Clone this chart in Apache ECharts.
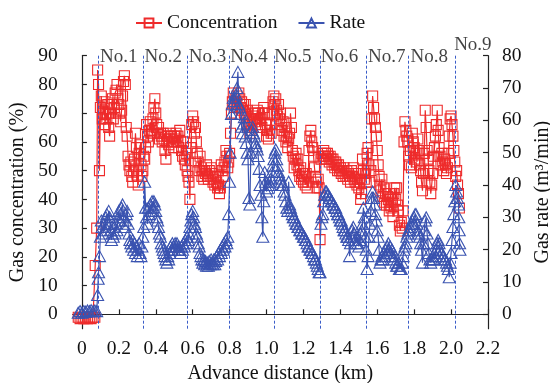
<!DOCTYPE html>
<html><head><meta charset="utf-8">
<script src="https://cdn.jsdelivr.net/npm/echarts@6/dist/echarts.min.js"></script>
<style>html,body{margin:0;padding:0;background:#fff}#c{width:550px;height:383px}</style>
</head><body><div id="c"></div>
<script>
const xTicks = [0, 0.2, 0.4, 0.6, 0.8, 1.0, 1.2, 1.4, 1.6, 1.8, 2.0, 2.2];
const leftTicks = [0, 10, 20, 30, 40, 50, 60, 70, 80, 90];
const rightTicks = [0, 10, 20, 30, 40, 50, 60, 70, 80];
const sectionX = [0.092, 0.334, 0.573, 0.798, 1.036, 1.289, 1.544, 1.775, 2.022];
const sectionNames = ['No.1', 'No.2', 'No.3', 'No.4', 'No.5', 'No.6', 'No.7', 'No.8', 'No.9'];

const concData = [
[-0.02,-1],[-0.01,-1.5],[0,-1],[0.01,-1.5],[0.02,-1],[0.03,-1.5],[0.04,-1],[0.05,-1.5],[0.06,-1],[0.07,-1],
[0.072,17],[0.08,30],[0.085,85],[0.09,80],[0.095,50],[0.1,72],[0.105,76],[0.11,68],[0.115,70],[0.12,74],
[0.125,66],[0.13,70],[0.135,68],[0.14,73],[0.145,65],[0.15,62],[0.155,70],[0.16,73],[0.165,75],[0.17,68],
[0.175,72],[0.18,77],[0.185,78],[0.19,80],[0.195,75],[0.2,73],[0.205,70],[0.21,67],[0.215,71],[0.22,76],
[0.225,81],[0.23,83],[0.235,80],[0.24,65],[0.245,62],[0.25,55],[0.255,52],[0.26,50],[0.265,53],[0.27,48],
[0.275,46],[0.28,50],[0.285,54],[0.29,63],[0.295,58],[0.3,48],[0.305,45],[0.31,56],[0.315,59],[0.32,52],
[0.325,48],[0.33,50],[0.335,55],[0.34,54],[0.345,58],[0.35,66],[0.355,62],[0.36,60],[0.365,64],[0.37,67],
[0.375,63],[0.38,64],[0.385,68],[0.39,72],[0.395,75],[0.4,70],[0.405,66],[0.41,63],[0.415,65],[0.42,61],
[0.425,63],[0.43,62],[0.435,60],[0.44,63],[0.445,61],[0.45,57],[0.455,54],[0.46,60],[0.465,62],[0.47,59],
[0.475,61],[0.48,63],[0.485,62],[0.49,60],[0.495,58],[0.5,62],[0.505,61],[0.51,63],[0.515,60],[0.52,62],
[0.525,58],[0.53,64],[0.535,60],[0.54,57],[0.545,55],[0.55,60],[0.555,54],[0.56,52],[0.565,56],[0.57,50],
[0.575,48],[0.58,46],[0.585,40],[0.59,58],[0.595,66],[0.6,69],[0.605,67],[0.61,63],[0.615,65],[0.62,60],
[0.625,56],[0.63,53],[0.635,50],[0.64,55],[0.645,51],[0.65,48],[0.655,50],[0.66,47],[0.665,50],[0.67,49],
[0.675,52],[0.68,48],[0.685,47],[0.69,50],[0.695,48],[0.7,51],[0.705,49],[0.71,46],[0.715,47],[0.72,45],
[0.725,48],[0.73,46],[0.735,44],[0.74,45],[0.745,42],[0.75,44],[0.755,52],[0.76,50],[0.765,48],[0.77,51],
[0.775,53],[0.78,57],[0.785,55],[0.79,51],[0.795,53],[0.8,56],[0.805,63],[0.81,70],[0.815,74],[0.82,77],
[0.825,72],[0.83,75],[0.835,73],[0.84,76],[0.845,72],[0.85,77],[0.855,75],[0.86,72],[0.865,74],[0.87,71],
[0.875,73],[0.88,70],[0.885,73],[0.89,69],[0.895,71],[0.9,67],[0.905,65],[0.91,63],[0.915,66],[0.92,64],
[0.925,68],[0.93,69],[0.935,67],[0.94,70],[0.945,68],[0.95,71],[0.955,70],[0.96,68],[0.965,66],[0.97,68],
[0.975,65],[0.98,70],[0.985,72],[0.99,70],[0.995,66],[1.0,62],[1.005,64],[1.01,61],[1.015,64],[1.02,66],
[1.025,63],[1.03,70],[1.035,74],[1.04,76],[1.045,73],[1.05,75],[1.055,71],[1.06,69],[1.065,73],[1.07,68],
[1.075,70],[1.08,66],[1.085,64],[1.09,67],[1.095,62],[1.1,65],[1.105,60],[1.11,62],[1.115,58],[1.12,61],
[1.125,63],[1.13,70],[1.135,65],[1.14,57],[1.145,55],[1.15,51],[1.155,54],[1.16,56],[1.165,52],[1.17,54],
[1.175,50],[1.18,48],[1.185,51],[1.19,47],[1.195,49],[1.2,46],[1.205,48],[1.21,45],[1.215,49],[1.22,44],
[1.225,46],[1.23,57],[1.235,62],[1.24,64],[1.245,60],[1.25,58],[1.255,55],[1.26,51],[1.265,48],[1.27,46],
[1.275,44],[1.28,47],[1.285,44],[1.29,26],[1.295,54],[1.3,56],[1.305,55],[1.31,57],[1.315,55],[1.32,56],
[1.325,54],[1.33,56],[1.335,55],[1.34,53],[1.345,55],[1.35,54],[1.355,52],[1.36,54],[1.365,53],[1.37,51],
[1.375,53],[1.38,52],[1.385,50],[1.39,52],[1.395,50],[1.4,51],[1.405,49],[1.41,50],[1.415,48],[1.42,51],
[1.425,49],[1.43,48],[1.435,50],[1.44,47],[1.445,49],[1.45,48],[1.455,46],[1.46,50],[1.465,48],[1.47,51],
[1.475,47],[1.48,46],[1.485,49],[1.49,45],[1.495,47],[1.5,44],[1.505,46],[1.51,40],[1.515,42],[1.52,54],
[1.525,50],[1.53,47],[1.535,49],[1.54,46],[1.545,56],[1.55,58],[1.555,52],[1.56,46],[1.565,50],[1.57,68],
[1.575,76],[1.58,72],[1.585,68],[1.59,65],[1.595,62],[1.6,57],[1.605,52],[1.61,48],[1.615,45],[1.62,43],
[1.625,47],[1.63,41],[1.635,44],[1.64,39],[1.645,42],[1.65,38],[1.655,41],[1.66,40],[1.665,36],[1.67,38],
[1.675,37],[1.68,39],[1.685,34],[1.69,42],[1.695,44],[1.7,40],[1.705,44],[1.71,38],[1.715,36],[1.72,31],
[1.725,29],[1.73,32],[1.735,30],[1.74,36],[1.745,60],[1.75,67],[1.755,64],[1.76,62],[1.765,60],[1.77,55],
[1.775,52],[1.78,57],[1.785,51],[1.79,63],[1.795,60],[1.8,58],[1.805,54],[1.81,56],[1.815,53],[1.82,61],
[1.825,57],[1.83,52],[1.835,50],[1.84,46],[1.845,43],[1.85,49],[1.855,56],[1.86,71],[1.865,65],[1.87,57],
[1.875,54],[1.88,50],[1.885,46],[1.89,42],[1.895,45],[1.9,49],[1.905,55],[1.91,58],[1.915,62],[1.92,66],
[1.925,71],[1.93,64],[1.935,58],[1.94,55],[1.945,52],[1.95,56],[1.955,53],[1.96,50],[1.965,54],[1.97,52],
[1.975,49],[1.98,51],[1.985,56],[1.99,62],[1.995,68],[2.0,69],[2.005,66],[2.01,62],[2.015,57],[2.02,53],
[2.025,48],[2.03,50],[2.035,45],[2.04,42],[2.045,37]
];

const rateData = [
[-0.02,0.5],[-0.01,1],[0,0.5],[0.01,1],[0.02,0.8],[0.03,1.2],[0.04,1],[0.05,1.3],[0.06,1],[0.07,1.2],
[0.08,1],[0.085,6],[0.088,11],[0.09,13],[0.095,18],[0.1,24],[0.105,29],[0.11,27],[0.115,25],[0.12,28],
[0.125,26],[0.13,30],[0.135,31],[0.14,28],[0.145,32],[0.15,30],[0.155,26],[0.16,23],[0.165,25],[0.17,24],
[0.175,27],[0.18,25],[0.185,28],[0.19,26],[0.195,30],[0.2,32],[0.205,29],[0.21,31],[0.215,33],[0.22,34],
[0.225,30],[0.23,27],[0.235,29],[0.24,31],[0.245,32],[0.25,28],[0.255,25],[0.26,23],[0.265,22],[0.27,21],
[0.275,23],[0.28,20],[0.285,22],[0.29,19],[0.295,21],[0.3,18],[0.305,20],[0.31,22],[0.315,19],[0.32,18],
[0.325,21],[0.33,24],[0.335,27],[0.34,41],[0.345,33],[0.35,30],[0.355,28],[0.36,33],[0.365,31],[0.37,34],
[0.375,32],[0.38,35],[0.385,33],[0.39,35],[0.395,34],[0.4,32],[0.405,30],[0.41,29],[0.415,27],[0.42,25],
[0.425,24],[0.43,22],[0.435,21],[0.44,20],[0.445,19],[0.45,18],[0.455,17],[0.46,16],[0.465,18],[0.47,17],
[0.475,19],[0.48,21],[0.485,20],[0.49,22],[0.495,21],[0.5,20],[0.505,22],[0.51,21],[0.515,22],[0.52,20],
[0.525,21],[0.53,20],[0.535,19],[0.54,21],[0.545,20],[0.55,22],[0.555,21],[0.56,23],[0.565,22],[0.57,24],
[0.575,23],[0.58,25],[0.585,27],[0.59,29],[0.595,31],[0.6,32],[0.605,30],[0.61,28],[0.615,27],[0.62,25],
[0.625,24],[0.63,22],[0.635,21],[0.64,19],[0.645,18],[0.65,17],[0.655,16],[0.66,17],[0.665,15.5],[0.67,16.5],
[0.675,15],[0.68,16],[0.685,15],[0.69,16.5],[0.695,15.5],[0.7,17],[0.705,16],[0.71,15.5],[0.715,17],[0.72,15.5],
[0.725,16.5],[0.73,18],[0.735,17],[0.74,19],[0.745,18],[0.75,20],[0.755,19],[0.76,21],[0.765,20],[0.77,22],
[0.775,21],[0.78,23],[0.785,22],[0.79,24],[0.795,31],[0.8,41],[0.803,50],[0.81,62],[0.815,65],[0.82,67],
[0.825,66],[0.83,67],[0.835,68],[0.84,70],[0.845,75],[0.85,65],[0.855,64],[0.86,62],[0.865,58],[0.87,56],
[0.875,59],[0.88,61],[0.885,55],[0.89,53],[0.895,50],[0.9,48],[0.905,36],[0.91,34],[0.915,50],[0.92,57],
[0.925,58],[0.93,56],[0.935,55],[0.94,53],[0.945,52],[0.95,51],[0.955,49],[0.96,45],[0.965,40],[0.97,37],
[0.975,30],[0.98,24],[0.985,35],[0.99,44],[0.995,41],[1.0,38],[1.005,39],[1.01,40],[1.015,41],[1.02,40],
[1.025,42],[1.03,44],[1.035,46],[1.04,48],[1.045,50],[1.05,51],[1.055,48],[1.06,46],[1.065,44],[1.07,43],
[1.075,42],[1.08,41],[1.085,40],[1.09,40],[1.095,38],[1.1,37],[1.105,35],[1.11,33],[1.115,32],[1.12,41],
[1.125,34],[1.13,33],[1.135,32],[1.14,31],[1.145,30],[1.15,30],[1.155,29],[1.16,28],[1.165,28],[1.17,27],
[1.175,27],[1.18,26],[1.185,26],[1.19,25],[1.195,25],[1.2,24],[1.205,24],[1.21,23],[1.215,23],[1.22,22],
[1.225,21],[1.23,21],[1.235,20],[1.24,20],[1.245,19],[1.25,19],[1.255,18],[1.26,17],[1.265,17],[1.27,16],
[1.275,15],[1.28,14],[1.285,13],[1.29,13],[1.295,28],[1.3,30],[1.305,31],[1.31,35],[1.315,37],[1.32,38],
[1.325,38],[1.33,37],[1.335,37],[1.34,36],[1.345,36],[1.35,35],[1.355,35],[1.36,34],[1.365,34],[1.37,33],
[1.375,33],[1.38,32],[1.385,31],[1.39,31],[1.395,30],[1.4,29],[1.405,29],[1.41,28],[1.415,27],[1.42,26],
[1.425,26],[1.43,25],[1.435,24],[1.44,24],[1.445,23],[1.45,18],[1.455,22],[1.46,24],[1.465,26],[1.47,27],
[1.475,25],[1.48,23],[1.485,22],[1.49,24],[1.495,22],[1.5,21],[1.505,23],[1.51,25],[1.515,26],[1.52,28],
[1.525,33],[1.53,30],[1.535,24],[1.54,20],[1.545,14],[1.55,18],[1.555,24],[1.56,28],[1.565,32],[1.57,36],
[1.575,38],[1.58,36],[1.585,34],[1.59,31],[1.595,29],[1.6,26],[1.605,24],[1.61,20],[1.615,16],[1.62,17],
[1.625,18],[1.63,17],[1.635,19],[1.64,18],[1.645,20],[1.65,19],[1.655,21],[1.66,22],[1.665,20],[1.67,21],
[1.675,19],[1.68,20],[1.685,18],[1.69,17],[1.695,18],[1.7,16],[1.705,15],[1.71,15],[1.715,16],[1.72,14],
[1.725,14],[1.73,14],[1.735,16],[1.74,18],[1.745,20],[1.75,21],[1.755,22],[1.76,24],[1.765,25],[1.77,26],
[1.775,26],[1.78,27],[1.785,28],[1.79,29],[1.795,28],[1.8,30],[1.805,31],[1.81,31],[1.815,28],[1.82,26],
[1.825,25],[1.83,24],[1.835,22],[1.84,20],[1.845,16],[1.85,22],[1.855,26],[1.86,29],[1.865,30],[1.87,25],
[1.875,22],[1.88,19],[1.885,17],[1.89,16],[1.895,17],[1.9,18],[1.905,17],[1.91,19],[1.915,18],[1.92,20],
[1.925,22],[1.93,23],[1.935,22],[1.94,20],[1.945,19],[1.95,19],[1.955,18],[1.96,18],[1.965,17],[1.97,17],
[1.975,16],[1.98,15],[1.985,14],[1.99,11.5],[1.995,16],[2.0,19],[2.005,23],[2.01,27],[2.015,31],[2.02,35],
[2.025,40],[2.03,38],[2.035,36],[2.04,34],[2.042,30],[2.044,26],[2.046,22],[2.048,20]
];

const RED = '#ee2b2b';
const BLUE = '#3a53b0';
const FONT = '"Liberation Serif", "Times New Roman", serif';

const chart = echarts.init(document.getElementById('c'), null, {renderer: 'canvas'});

const labelData = sectionX.map((x, i) => {
  const last = i === sectionX.length - 1;
  return {
    value: [x, 90],
    label: {
      show: true,
      formatter: sectionNames[i],
      position: 'right',
      distance: 1,
      offset: last ? [-2, -11] : [0, 1]
    }
  };
});

const axisLineStyle = {color: '#222', width: 1.2};

chart.setOption({
  animation: false,
  backgroundColor: '#fff',
  textStyle: {fontFamily: FONT},
  legend: {
    left: 130, top: 8,
    itemWidth: 26, itemHeight: 11, itemGap: 20,
    textStyle: {fontFamily: FONT, fontSize: 19.5, color: '#111'},
    data: ['Concentration', 'Rate']
  },
  grid: {left: 72.7, right: 62, top: 55.7, bottom: 54.3, outerBoundsMode: 'none'},
  xAxis: {
    type: 'value', min: -0.05, max: 2.2,
    name: 'Advance distance (km)', nameLocation: 'middle', nameGap: 35,
    nameTextStyle: {fontFamily: FONT, fontSize: 20, color: '#111'},
    axisLine: {show: true, lineStyle: axisLineStyle},
    axisTick: {show: true, inside: true, length: 5, lineStyle: axisLineStyle, customValues: xTicks},
    axisLabel: {fontFamily: FONT, fontSize: 19.5, color: '#111', margin: 10, customValues: xTicks,
      formatter: v => v === 0 ? '0' : v.toFixed(1)},
    splitLine: {show: false}
  },
  yAxis: [{
    type: 'value', min: -5, max: 90, position: 'left',
    name: 'Gas concentration (%)', nameLocation: 'middle', nameGap: 35, nameRotate: 90,
    nameTextStyle: {fontFamily: FONT, fontSize: 20, color: '#111'},
    axisLine: {show: true, lineStyle: axisLineStyle},
    axisTick: {show: true, inside: true, length: 5, lineStyle: axisLineStyle, customValues: leftTicks},
    axisLabel: {fontFamily: FONT, fontSize: 19.5, color: '#111', margin: 15, customValues: leftTicks},
    splitLine: {show: false}
  }, {
    type: 'value', min: -40 / 9, max: 80, position: 'right',
    name: 'Gas rate (m³/min)', nameLocation: 'middle', nameGap: 35, nameRotate: 90,
    nameTextStyle: {fontFamily: FONT, fontSize: 20, color: '#111'},
    axisLine: {show: true, lineStyle: axisLineStyle},
    axisTick: {show: true, inside: true, length: 5, lineStyle: axisLineStyle, customValues: rightTicks},
    axisLabel: {fontFamily: FONT, fontSize: 19.5, color: '#111', margin: 14, customValues: rightTicks},
    splitLine: {show: false}
  }],
  series: [{
    name: 'Concentration', type: 'line', yAxisIndex: 0,
    data: concData, symbol: 'rect', symbolSize: 10, showAllSymbol: true,
    color: RED,
    lineStyle: {color: RED, width: 1.2},
    itemStyle: {color: 'rgba(255,255,255,0)', borderColor: RED, borderWidth: 1.1},
    emphasis: {disabled: true}, z: 2
  }, {
    name: 'Rate', type: 'line', yAxisIndex: 1,
    data: rateData, symbol: 'triangle', symbolSize: [12, 11], showAllSymbol: true,
    color: BLUE,
    lineStyle: {color: BLUE, width: 1.2},
    itemStyle: {color: 'rgba(255,255,255,0)', borderColor: BLUE, borderWidth: 1.1},
    emphasis: {disabled: true}, z: 3
  }, {
    name: 'sections', type: 'scatter', yAxisIndex: 0,
    data: labelData, symbolSize: 0, silent: true, z: 5,
    label: {fontFamily: FONT, fontSize: 19, color: '#111'},
    markLine: {
      silent: true, symbol: 'none', animation: false,
      label: {show: false},
      lineStyle: {color: '#3a5cc8', width: 1, type: [3, 2]},
      data: sectionX.map(x => ({xAxis: x}))
    }
  }]
});
</script>
</body></html>
